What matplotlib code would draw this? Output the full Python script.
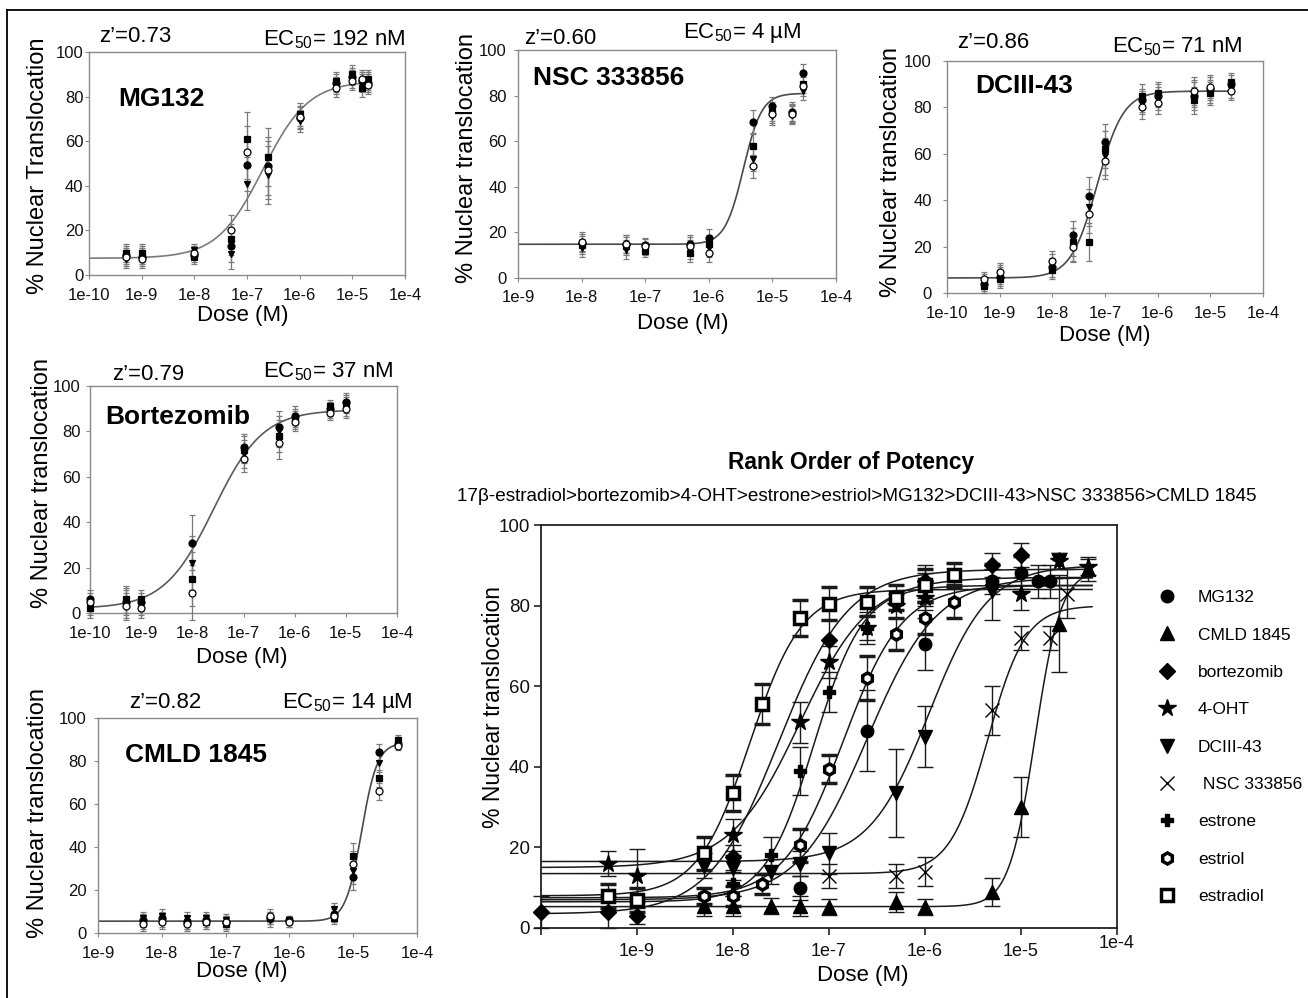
import numpy as np
import matplotlib
matplotlib.use('Agg')
import matplotlib.pyplot as plt
from matplotlib.ticker import FixedLocator, FixedFormatter, NullLocator
from matplotlib.lines import Line2D
import matplotlib.transforms as mtransforms

plt.rcParams['font.family'] = ['Liberation Sans', 'DejaVu Sans']
plt.rcParams['mathtext.fontset'] = 'custom'
plt.rcParams['mathtext.rm'] = 'Liberation Sans'
plt.rcParams['mathtext.it'] = 'Liberation Sans:italic'
plt.rcParams['mathtext.bf'] = 'Liberation Sans:bold'
plt.rcParams['mathtext.default'] = 'regular'

# ---------------- small panel data ----------------
mg_dose = [5e-10, 1e-9, 1e-8, 5e-8, 1e-7, 2.5e-7, 1e-6, 5e-6, 1e-5, 1.5e-5, 2e-5]
mg_r1 = [9, 8, 9, 13, 49.5, 49, 70.5, 86, 89, 87, 86]
mg_r2 = [7, 9, 11, 9.5, 41, 45, 69, 85, 88, 86, 87]
mg_r3 = [10, 10, 8, 16, 61, 53, 72, 87, 90, 84, 88]
mg_r4 = [8, 7, 10, 20, 55, 47, 71, 84, 87, 88, 85]
mg_err = [4, 4, 3, 7, 12, 13, 5, 4, 4, 4, 4]
mg_fit = [7.5, 87, 2.0e-7, 1.0]

nsc_dose = [1e-8, 5e-8, 1e-7, 5e-7, 1e-6, 5e-6, 1e-5, 2e-5, 3e-5]
nsc_r1 = [15.5, 15, 14.5, 15, 17.5, 68.5, 75.5, 73, 90]
nsc_r2 = [13, 12.5, 13, 12.5, 13, 52, 71, 71.5, 82]
nsc_r3 = [14.5, 14, 12, 11, 15, 58, 73, 72.5, 85]
nsc_r4 = [16, 15, 14, 14, 11, 49, 72, 72, 84]
nsc_err = [4, 4, 3, 4, 4, 5, 4, 4, 4]
nsc_fit = [14.8, 81, 3.5e-6, 3.0]

dc_dose = [5e-10, 1e-9, 1e-8, 2.5e-8, 5e-8, 1e-7, 5e-7, 1e-6, 5e-6, 1e-5, 2.5e-5]
dc_r1 = [4, 7, 11, 25, 42, 65, 83, 85, 85, 88, 90]
dc_r2 = [5, 8, 13, 19.5, 37, 59, 82, 84, 86, 87, 88]
dc_r3 = [3, 6, 10, 22, 22, 62, 85, 86, 83, 86, 91]
dc_r4 = [6, 9, 14, 20, 34, 57, 80, 82, 87, 89, 87]
dc_err = [3, 4, 4, 6, 8, 8, 5, 5, 6, 5, 4]
dc_fit = [6.5, 87, 7.1e-8, 1.75]

bz_dose = [1e-10, 5e-10, 1e-9, 1e-8, 1e-7, 5e-7, 1e-6, 5e-6, 1e-5]
bz_r1 = [6, 5, 5, 31, 73, 82, 87, 90, 93]
bz_r2 = [3, 4, 3, 22, 70, 80, 85, 89, 91]
bz_r3 = [2, 6, 6, 15, 72, 78, 86, 91, 92]
bz_r4 = [5, 3, 2, 9, 68, 75, 84, 88, 90]
bz_err = [4, 6, 4, 12, 6, 7, 4, 3, 4]
bz_fit = [2.0, 89.5, 2.6e-8, 0.9]

cm_dose = [5e-9, 1e-8, 2.5e-8, 5e-8, 1e-7, 5e-7, 1e-6, 5e-6, 1e-5, 2.5e-5, 5e-5]
cm_r1 = [6, 7, 5, 6, 5, 7, 6, 9, 26, 84, 88]
cm_r2 = [7, 8, 7, 7, 6, 6, 5, 11, 29, 79, 89]
cm_r3 = [5, 6, 5, 5, 4, 7, 6, 7, 36, 72, 90]
cm_r4 = [4, 5, 4, 5, 5, 8, 5, 8, 32, 66, 87]
cm_err = [3, 3, 3, 3, 3, 3, 2, 3, 6, 4, 2]
cm_fit = [5.5, 88.5, 1.35e-5, 3.5]

# ---------------- combined panel data ----------------
names = ['MG132', 'CMLD 1845', 'bortezomib', '4-OHT', 'DCIII-43', ' NSC 333856',
         'estrone', 'estriol', 'estradiol']
doses = [
    [5e-8, 2.5e-7, 1e-6, 5e-6, 1e-5, 1.5e-5, 2e-5],
    [5e-9, 1e-8, 2.5e-8, 5e-8, 1e-7, 5e-7, 1e-6, 5e-6, 1e-5, 2.5e-5, 5e-5],
    [1e-10, 5e-10, 1e-9, 1e-8, 1e-7, 1e-6, 5e-6, 1e-5],
    [5e-10, 1e-9, 1e-8, 5e-8, 1e-7, 2.5e-7, 5e-7, 1e-6, 1e-5, 2.5e-5, 5e-5],
    [5e-9, 1e-8, 2.5e-8, 5e-8, 1e-7, 5e-7, 1e-6, 5e-6, 2.5e-5],
    [1e-7, 5e-7, 1e-6, 5e-6, 1e-5, 2e-5, 3e-5],
    [1e-8, 2.5e-8, 5e-8, 1e-7, 2.5e-7, 1e-6],
    [5e-9, 1e-8, 2e-8, 5e-8, 1e-7, 2.5e-7, 5e-7, 1e-6, 2e-6],
    [5e-10, 1e-9, 5e-9, 1e-8, 2e-8, 5e-8, 1e-7, 2.5e-7, 5e-7, 1e-6, 2e-6],
]
values = [
    [10, 49, 70.5, 86, 88, 86, 86],
    [5.5, 5.5, 5.5, 5.5, 5.3, 6.5, 5.3, 9, 30, 75.5, 89],
    [4, 4, 3, 17.5, 71.5, 86, 90, 92.5],
    [16, 13, 23, 51, 66, 74.5, 80, 82, 83, 91, 89.5],
    [15.5, 15, 14, 16, 18.5, 33.5, 47.5, 83.5, 91],
    [13, 13, 14, 54, 72, 72, 83],
    [11, 18, 39, 58.5, 74.5, 84],
    [8, 8, 11, 20.5, 39.5, 62, 73, 77, 81],
    [8, 7, 18.5, 33.5, 55.5, 77, 80.5, 81, 82, 85, 87.5],
]
errors = [
    [3, 10, 6.5, 3, 4, 4, 4],
    [2.5, 2.5, 2, 2.5, 2, 2.5, 2, 3.5, 7.5, 12, 3],
    [4, 4, 2, 3, 5, 4, 3, 3],
    [3, 6.5, 4, 5, 4, 3, 3, 3, 4, 2, 2],
    [3, 3, 3, 3, 5, 11, 7.5, 7, 2],
    [3, 3, 3.5, 6, 3, 3, 6],
    [3, 4.5, 6, 5, 4, 4],
    [2, 2.5, 2.5, 4, 3.5, 5.5, 4, 4, 4],
    [3, 3, 4, 4.5, 5, 4.5, 4, 3.5, 3, 4, 3],
]
fits = [
    [7, 87, 2.5e-7, 1.2],
    [5.3, 89, 1.4e-5, 3.2],
    [3.5, 89, 3e-8, 1.2],
    [15, 87, 5e-8, 1.2],
    [16.5, 90, 1.1e-6, 1.4],
    [13.5, 80, 4.5e-6, 2.2],
    [6.5, 85, 7e-8, 1.7],
    [7.5, 85, 1.4e-7, 1.4],
    [8, 84, 1.5e-8, 1.6],
]
styles = [
    ('o', 9, 'black', 1.0),
    ('^', 10, 'black', 1.0),
    ('D', 8.5, 'black', 1.0),
    ('*', 13, 'black', 1.0),
    ('v', 10, 'black', 1.0),
    ('x', 10, 'none', 1.0),
    ('P', 9, 'black', 1.0),
    ('h', 8, 'white', 2.5),
    ('s', 8.5, 'white', 2.5),
]

W, H = 1308, 998
fig = plt.figure(figsize=(W / 100, H / 100), dpi=100)


def px_axes(l, t, r, b):
    return fig.add_axes([l / W, 1 - b / H, (r - l) / W, (b - t) / H])


def ftext(x, y, s, **kw):
    return fig.text(x / W, 1 - y / H, s, **kw)


def logistic(x, b, t, ec, h):
    return b + (t - b) / (1 + (ec / x) ** h)


rep_styles = [('o', 'black'), ('v', 'black'), ('s', 'black'), ('o', 'white')]


def small_panel(rect, xmin_exp, dose, reps, err, fit, name, z, ec, ylab,
                zpos, ecpos, namepos, ylpos, xlpos, ypad, curve_color):
    ax = px_axes(*rect)
    ax.set_xscale('log')
    ax.set_xlim(10.0 ** xmin_exp, 1e-4)
    ax.set_ylim(0, 100)
    xs = np.logspace(xmin_exp, np.log10(max(dose)), 400)
    ax.plot(xs, logistic(xs, *fit), color=curve_color, lw=1.2, zorder=2)
    for r, (m, fc) in zip(reps, rep_styles):
        ax.errorbar(dose, r, yerr=err, fmt=m, mfc=fc, mec='black', ms=5,
                    mew=0.9, ecolor='#7a7a7a', elinewidth=0.9, capsize=2.5,
                    capthick=0.9, zorder=3, clip_on=False)
    exps = list(range(xmin_exp, -3))
    ax.xaxis.set_major_locator(FixedLocator([10.0 ** e for e in exps]))
    ax.xaxis.set_major_formatter(FixedFormatter(['1e%d' % e for e in exps]))
    ax.xaxis.set_minor_locator(NullLocator())
    ax.set_yticks([0, 20, 40, 60, 80, 100])
    for s in ax.spines.values():
        s.set_color('#8a8a8a')
        s.set_linewidth(1.0)
    ax.tick_params(axis='both', direction='out', length=3, color='#8a8a8a',
                   labelsize=12, labelcolor='#111111')
    ax.tick_params(axis='x', pad=6)
    ax.tick_params(axis='y', pad=ypad)
    ftext(zpos[0], zpos[1], z, fontsize=16, ha='center', va='center')
    ftext(ecpos[0], ecpos[1], ec, fontsize=16, ha='left', va='center')
    ftext(namepos[0], namepos[1], name, fontsize=19, fontweight='bold',
          ha='left', va='center')
    ftext(ylpos[0], ylpos[1], ylab, fontsize=17, rotation=90, ha='center',
          va='center')
    ftext(xlpos[0], xlpos[1], 'Dose (M)', fontsize=16, ha='center', va='center')
    return ax


small_panel((89, 52, 405, 275), -10, mg_dose, [mg_r1, mg_r2, mg_r3, mg_r4],
            mg_err, mg_fit, 'MG132', 'z\u2019=0.73', 'EC$_{50}$= 192 nM',
            '% Nuclear Translocation', (135, 36), (263, 40), (118, 99),
            (38, 166), (243, 315), 1, '#7a7a7a')
small_panel((518, 50, 836, 278), -9, nsc_dose, [nsc_r1, nsc_r2, nsc_r3, nsc_r4],
            nsc_err, nsc_fit, 'NSC 333856', 'z\u2019=0.60', 'EC$_{50}$= 4 \u00b5M',
            '% Nuclear translocation', (560, 38), (683, 33), (533, 78),
            (467, 158), (683, 323), 5, '#4a4a4a')
small_panel((947, 61, 1263, 293), -10, dc_dose, [dc_r1, dc_r2, dc_r3, dc_r4],
            dc_err, dc_fit, 'DCIII-43', 'z\u2019=0.86', 'EC$_{50}$= 71 nM',
            '% Nuclear translocation', (993, 42), (1112, 47), (975, 86),
            (891, 172), (1105, 335), 8, '#4a4a4a')
small_panel((90, 386, 397, 613), -10, bz_dose, [bz_r1, bz_r2, bz_r3, bz_r4],
            bz_err, bz_fit, 'Bortezomib', 'z\u2019=0.79', 'EC$_{50}$= 37 nM',
            '% Nuclear translocation', (148, 375), (263, 372), (105, 417),
            (42, 483), (242, 658), 3.5, '#5a5a5a')
small_panel((98, 718, 417, 933), -9, cm_dose, [cm_r1, cm_r2, cm_r3, cm_r4],
            cm_err, cm_fit, 'CMLD 1845', 'z\u2019=0.82', 'EC$_{50}$= 14 \u00b5M',
            '% Nuclear translocation', (165, 703), (282, 703), (125, 755),
            (38, 813), (242, 972), 5, '#4a4a4a')

# ---------------- combined panel ----------------
ax = px_axes(541, 525, 1117, 928)
ax.set_xscale('log')
ax.set_xlim(1e-10, 1e-4)
ax.set_ylim(0, 100)
xs = np.logspace(-10, np.log10(5.5e-5), 500)
handles = []
for d, v, e, f, st, nm in zip(doses, values, errors, fits, styles, names):
    ax.plot(xs, logistic(xs, *f), color='#1a1a1a', lw=1.1, zorder=2)
    m, ms, fc, mew = st
    cont = ax.errorbar(d, v, yerr=e, fmt=m, ms=ms, mfc=fc, mec='black',
                       mew=mew, color='black', ecolor='#1a1a1a', elinewidth=1.0,
                       capsize=5.5, capthick=1.0, zorder=3, clip_on=False,
                       label=nm)
    handles.append(cont.lines[0])
exps = list(range(-10, -3))
ax.xaxis.set_major_locator(FixedLocator([10.0 ** k for k in exps]))
ax.xaxis.set_major_formatter(FixedFormatter([''] + ['1e%d' % k for k in exps[1:]]))
ax.xaxis.set_minor_locator(NullLocator())
ax.set_yticks([0, 20, 40, 60, 80, 100])
for s in ax.spines.values():
    s.set_color('#222222')
    s.set_linewidth(1.3)
ax.tick_params(axis='both', direction='out', length=5, width=1.2,
               color='#222222', labelcolor='#111111')
ax.tick_params(axis='x', labelsize=13, pad=6)
ax.tick_params(axis='y', labelsize=13.5, pad=3)
lab = ax.get_xticklabels()[-1]
lab.set_transform(lab.get_transform() +
                  mtransforms.ScaledTranslation(0, 6 / 72, fig.dpi_scale_trans))

ftext(493, 707, '% Nuclear translocation', fontsize=16.5, rotation=90,
      ha='center', va='center')
ftext(863, 976, 'Dose (M)', fontsize=16, ha='center', va='center')
ftext(851, 463, 'Rank Order of Potency', fontsize=16.4, fontweight='bold',
      ha='center', va='center')
ftext(857, 496, '17\u03b2-estradiol>bortezomib>4-OHT>estrone>estriol>MG132>'
      'DCIII-43>NSC 333856>CMLD 1845', fontsize=13.6, ha='center', va='center')

fig.legend(handles, names, loc='upper left',
           bbox_to_anchor=(1158 / W, 1 - 590 / H), frameon=False,
           fontsize=12.5, handlelength=1.0, handletextpad=1.3,
           labelspacing=1.28, borderaxespad=0, borderpad=0)

# outer frame
fig.add_artist(Line2D([7 / W, 7 / W], [0, 1 - 10 / H], transform=fig.transFigure,
                      color='black', lw=1.3))
fig.add_artist(Line2D([7 / W, 1], [1 - 10 / H, 1 - 10 / H],
                      transform=fig.transFigure, color='black', lw=1.3))

fig.savefig('out.png', dpi=100)
